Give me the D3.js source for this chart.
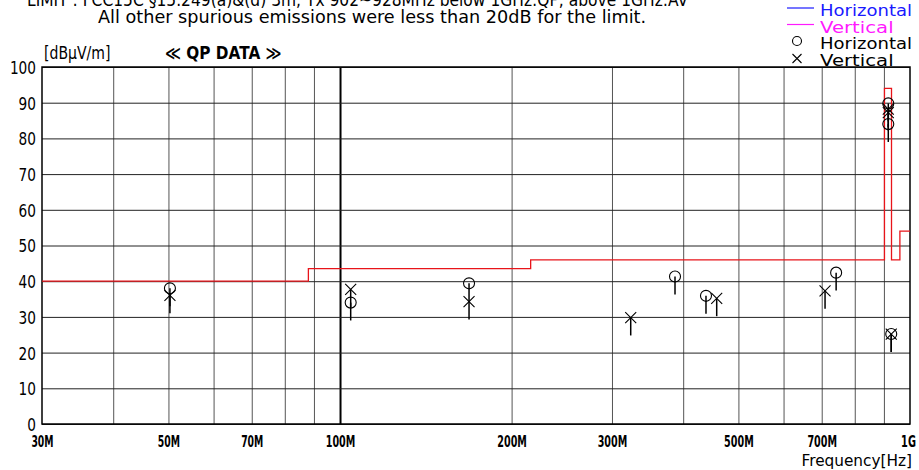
<!DOCTYPE html>
<html>
<head>
<meta charset="utf-8">
<script src="https://cdn.jsdelivr.net/npm/d3@7"></script>
<style>
  html, body { margin: 0; padding: 0; background: #fff; }
  svg { display: block; }
  text { font-family: "DejaVu Sans", "Liberation Sans", sans-serif; }
</style>
</head>
<body>
<svg id="chart" width="919" height="470"></svg>
<script>
// ---- data ----
const titleLines = [
  "LIMIT : FCC15C §15.249(a)&(d) 3m, Tx 902~928MHz below 1GHz:QP, above 1GHz:AV",
  "All other spurious emissions were less than 20dB for the limit."
];
const yTicks = [0, 10, 20, 30, 40, 50, 60, 70, 80, 90, 100];
const xLabelValues = [30, 50, 70, 100, 200, 300, 500, 700, 1000];
const xLabelTexts = ["30M", "50M", "70M", "100M", "200M", "300M", "500M", "700M", "1G"];
const xGridValues = [40, 50, 60, 70, 80, 90, 100, 200, 300, 400, 500, 600, 700, 800, 900];

const limitFreq  = [30, 88, 88, 216, 216, 902, 902, 928, 928, 960, 960, 1000];
const limitLevel = [40, 40, 43.5, 43.5, 46, 46, 94, 94, 46, 46, 54, 54];

const horFreq  = [50.3, 104.4, 168.4, 387, 438.6, 742, 916, 916, 927];
const horLevel = [38.0, 34.0, 39.4, 41.3, 35.9, 42.4, 89.8, 84.0, 25.2];
const verFreq  = [50.3, 104.4, 168.4, 323.6, 458, 709.5, 916, 916, 927];
const verLevel = [36.0, 37.7, 34.3, 29.8, 35.2, 37.3, 88.2, 87.2, 25.2];

const legendItems = [
  { label: "Horizontal", kind: "line", color: "#1a1aff", textColor: "#1a1aff" },
  { label: "Vertical",   kind: "line", color: "#ff1aff", textColor: "#ff1aff" },
  { label: "Horizontal", kind: "circle", color: "#000", textColor: "#000" },
  { label: "Vertical",   kind: "cross", color: "#000", textColor: "#000" }
];

// ---- layout ----
const L = 42, R = 910, T = 67, B = 424;
const CW = 8.7; // char width for condensed text
const svg = d3.select("#chart");
const x = d3.scaleLog().domain([30, 1000]).range([L, R]);
const y = d3.scaleLinear().domain([0, 100]).range([B, T]);

function squeeze(sel, cw) {
  sel.each(function () {
    const n = this.textContent.length;
    d3.select(this).attr("textLength", n * cw).attr("lengthAdjust", "spacingAndGlyphs");
  });
}

// title
svg.append("text").attr("x", 27).attr("y", 6).attr("font-size", 17)
  .text(titleLines[0]).call(squeeze, CW);
svg.append("text").attr("x", 98).attr("y", 23).attr("font-size", 17)
  .text(titleLines[1]).call(squeeze, CW);

// vertical grid
const gx = svg.append("g").attr("transform", `translate(0,${B})`)
  .call(d3.axisBottom(x).tickValues(xGridValues).tickSize(-(B - T)).tickFormat(""));
gx.select(".domain").remove();
gx.selectAll(".tick line")
  .attr("stroke-width", d => d === 100 ? 2 : 1)
  .attr("stroke", d => d === 100 ? "#000" : "#555");

// horizontal grid
const gy = svg.append("g").attr("transform", `translate(${L},0)`)
  .call(d3.axisLeft(y).tickValues(yTicks).tickSize(-(R - L)).tickPadding(6)
    .tickFormat(d3.format("d")));
gy.select(".domain").remove();
gy.selectAll(".tick line").attr("stroke", "#222").attr("stroke-width", 1);
gy.selectAll(".tick text").attr("font-size", 18).attr("fill", "#000")
  .attr("text-anchor", "end").attr("x", -6).attr("dy", "0.36em")
  .call(squeeze, CW);

// x labels
const gl = svg.append("g").attr("transform", `translate(0,${B})`)
  .call(d3.axisBottom(x).tickValues(xLabelValues).tickSize(0).tickPadding(12)
    .tickFormat((d, i) => xLabelTexts[i]));
gl.select(".domain").remove();
gl.selectAll(".tick text").attr("font-size", 15).attr("font-weight", "bold")
  .attr("fill", "#000").call(squeeze, 7.4)
  .attr("dx", d => d === 1000 ? -2 : 0);

// frame
svg.append("rect").attr("x", L).attr("y", T).attr("width", R - L).attr("height", B - T)
  .attr("fill", "none").attr("stroke", "#000").attr("stroke-width", 1.5);

// limit line
const limitData = limitFreq.map((f, i) => [f, limitLevel[i]]);
svg.append("path").datum(limitData)
  .attr("d", d3.line().x(d => x(d[0])).y(d => y(d[1])))
  .attr("fill", "none").attr("stroke", "#e8141a").attr("stroke-width", 1.3);

// markers
const stemDb = 5;
const markers = svg.append("g").attr("stroke", "#000").attr("fill", "none").attr("stroke-width", 1.1);
const hor = horFreq.map((f, i) => [f, horLevel[i]]);
const ver = verFreq.map((f, i) => [f, verLevel[i]]);
[...hor, ...ver].forEach(d => {
  markers.append("line").attr("x1", x(d[0])).attr("x2", x(d[0]))
    .attr("y1", y(d[1])).attr("y2", y(d[1] - stemDb)).attr("stroke-width", 1.5);
});
hor.forEach(d => {
  markers.append("circle").attr("cx", x(d[0])).attr("cy", y(d[1])).attr("r", 5.5);
});
ver.forEach(d => {
  const cx = x(d[0]), cy = y(d[1]), s = 5.5;
  markers.append("path").attr("d", `M${cx - s},${cy - s}L${cx + s},${cy + s}M${cx - s},${cy + s}L${cx + s},${cy - s}`);
});

// axis captions
svg.append("text").attr("x", 44).attr("y", 59).attr("font-size", 17)
  .text("[dBμV/m]").call(squeeze, 8.3);
svg.append("text").attr("x", 165).attr("y", 59).attr("font-size", 17).attr("font-weight", "bold")
  .text("≪ QP DATA ≫").call(squeeze, 10.6);
svg.append("text").attr("x", 912).attr("y", 466).attr("font-size", 16).attr("text-anchor", "end")
  .text("Frequency[Hz]").call(squeeze, 8.5);

// legend
const lg = svg.append("g");
legendItems.forEach((it, i) => {
  const yy = 11 + i * 16.5;
  if (it.kind === "line") {
    lg.append("line").attr("x1", 787).attr("x2", 814).attr("y1", yy - 3).attr("y2", yy - 3)
      .attr("stroke", it.color).attr("stroke-width", 1.2);
  } else if (it.kind === "circle") {
    lg.append("circle").attr("cx", 797).attr("cy", yy - 3).attr("r", 4.5)
      .attr("fill", "none").attr("stroke", "#000").attr("stroke-width", 1.1);
  } else {
    const s = 4.5, cx = 797, cy = yy - 2;
    lg.append("path").attr("d", `M${cx - s},${cy - s}L${cx + s},${cy + s}M${cx - s},${cy + s}L${cx + s},${cy - s}`)
      .attr("fill", "none").attr("stroke", "#000").attr("stroke-width", 1.1);
  }
  lg.append("text").attr("x", 820).attr("y", yy + 5).attr("font-size", 15)
    .attr("fill", it.textColor).text(it.label).call(squeeze, 9.2);
});
</script>
</body>
</html>
